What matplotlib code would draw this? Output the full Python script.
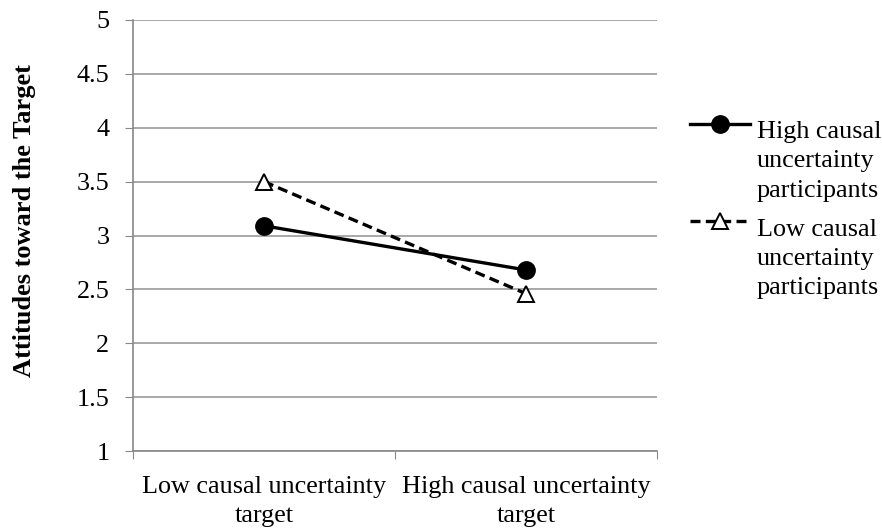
import matplotlib
matplotlib.use("Agg")
import numpy as np
import matplotlib.pyplot as plt
from matplotlib.legend_handler import HandlerLine2D

categories = ["Low causal uncertainty\ntarget", "High causal uncertainty\ntarget"]
high_cu = [3.09, 2.68]
low_cu = [3.50, 2.46]
series_labels = ["High causal\nuncertainty\nparticipants", "Low causal\nuncertainty\nparticipants"]
yticks = [1, 1.5, 2, 2.5, 3, 3.5, 4, 4.5, 5]
ytick_labels = ["1", "1.5", "2", "2.5", "3", "3.5", "4", "4.5", "5"]

plt.rcParams['font.family'] = ['Liberation Serif', 'DejaVu Serif']
FS = 18.8
LS = 1.42


class TopHandler(HandlerLine2D):
    def create_artists(self, legend, orig_handle, xdescent, ydescent,
                       width, height, fontsize, trans):
        arts = super().create_artists(legend, orig_handle, xdescent, ydescent,
                                      width, height, fontsize, trans)
        for a in arts:
            a.set_ydata(np.asarray(a.get_ydata()) + fontsize * 1.4)
        return arts


fig = plt.figure(figsize=(8.82, 5.28), dpi=100)
ax = fig.add_axes([133/882, 1 - 451/528, (657-133)/882, (451-20)/528])

x = [0.5, 1.5]
ax.plot(x, high_cu, color='black', lw=2.4, marker='o', markersize=12.5,
        markerfacecolor='black', label=series_labels[0], zorder=3)
ax.plot(x, low_cu, color='black', lw=2.4, ls=(0, (3, 1.6)), marker='^', markersize=12,
        markerfacecolor='white', markeredgecolor='black', markeredgewidth=1.4,
        label=series_labels[1], zorder=3)

ax.set_xlim(0, 2)
ax.set_ylim(1, 5)
ax.set_yticks(yticks)
ax.set_yticklabels(ytick_labels, fontsize=FS)
ax.set_xticks([0, 1, 2])
ax.set_xticklabels([])
ax.set_xticks(x, minor=True)
ax.set_xticklabels(categories, minor=True, fontsize=FS, linespacing=LS)
ax.tick_params(axis='x', which='minor', length=0, pad=18)
ax.tick_params(axis='x', which='major', length=6, color='#888888', direction='out')
ax.tick_params(axis='y', length=6, color='#888888', direction='out', pad=11)

ax.grid(axis='y', color='#999999', lw=1.2)
ax.set_axisbelow(True)
for s in ['top', 'right']:
    ax.spines[s].set_visible(False)
for s in ['left', 'bottom']:
    ax.spines[s].set_color('#888888')
    ax.spines[s].set_linewidth(1.2)

ax.set_ylabel("Attitudes toward the Target", fontsize=19, fontweight='bold')
ax.yaxis.set_label_coords(-0.186, 0.535)

leg = ax.legend(loc='upper left', bbox_to_anchor=(1.063, 0.765), frameon=False,
                fontsize=FS, handlelength=2.3, handletextpad=0.25,
                labelspacing=0.65, borderaxespad=0, borderpad=0,
                handler_map={plt.Line2D: TopHandler()})
for t in leg.get_texts():
    t.set_linespacing(LS)

fig.savefig("out.png", dpi=100)
